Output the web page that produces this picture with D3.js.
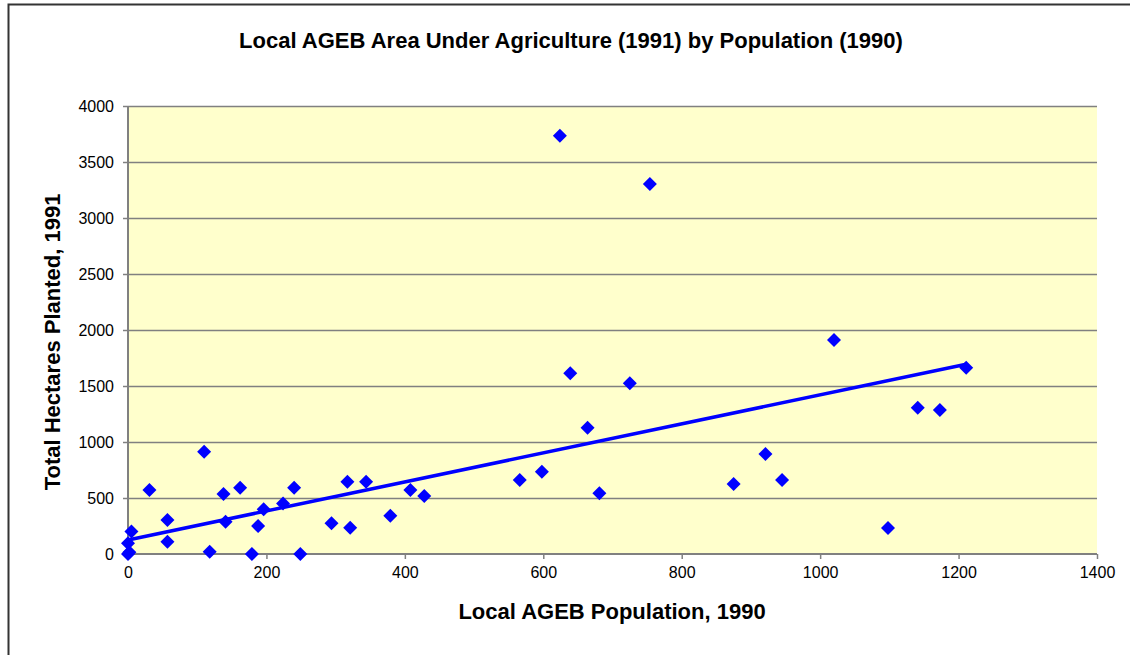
<!DOCTYPE html>
<html>
<head>
<meta charset="utf-8">
<script src="https://cdn.jsdelivr.net/npm/d3@7"></script>
<style>
  html, body { margin: 0; padding: 0; background: #fff; }
  text { font-family: "Liberation Sans", Arial, sans-serif; fill: #000; }
</style>
</head>
<body>
<div id="chart"></div>
<script>
// ── data ────────────────────────────────────────────────────────────────
const population = [0, 2, 0, 5, 31, 57, 57, 110, 118, 138, 141, 162, 179, 188, 196, 224, 240, 249,
  294, 317, 321, 344, 379, 408, 428, 566, 598, 624, 639, 664, 681, 725, 754, 875, 921, 945,
  1020, 1098, 1141, 1173, 1211];
const hectares = [0, 15, 95, 200, 571, 303, 110, 913, 21, 536, 289, 592, 0, 250, 399, 452, 592, 0,
  274, 646, 235, 646, 342, 571, 518, 661, 735, 3735, 1613, 1128, 542, 1524, 3304, 625, 893, 661,
  1911, 232, 1306, 1286, 1663];
// linear trendline as drawn in the original (intercept, slope)
const trendIntercept = 125;
const trendSlope = 1.296;
const xTicks = [0, 200, 400, 600, 800, 1000, 1200, 1400];
const yTicks = [0, 500, 1000, 1500, 2000, 2500, 3000, 3500, 4000];

const W = 1130, H = 655;
const plot = { left: 128, top: 106, right: 1097, bottom: 554 };

const svg = d3.select('#chart').append('svg')
  .attr('width', W).attr('height', H)
  .style('display', 'block');

// outer frame (only top + left visible in the original)
svg.append('path')
  .attr('d', `M8.5,${H} L8.5,4.5 L${W},4.5`)
  .attr('fill', 'none').attr('stroke', '#333').attr('stroke-width', 2);

const x = d3.scaleLinear().domain([0, 1400]).range([plot.left, plot.right]);
const y = d3.scaleLinear().domain([0, 4000]).range([plot.bottom, plot.top]);

// plot background
svg.append('rect')
  .attr('x', plot.left).attr('y', plot.top)
  .attr('width', plot.right - plot.left).attr('height', plot.bottom - plot.top)
  .attr('fill', '#FFFFCC');

// gridlines
svg.append('g')
  .selectAll('line')
  .data(yTicks.filter(d => d > 0))
  .enter().append('line')
  .attr('x1', plot.left).attr('x2', plot.right)
  .attr('y1', d => Math.round(y(d)) + 0.5).attr('y2', d => Math.round(y(d)) + 0.5)
  .attr('stroke', '#808080').attr('stroke-width', 1.5);

// axes
const xAxis = svg.append('g')
  .attr('transform', `translate(0,${plot.bottom})`)
  .call(d3.axisBottom(x).tickValues(xTicks).tickSize(5).tickPadding(8).tickFormat(d3.format('d')));
const yAxis = svg.append('g')
  .attr('transform', `translate(${plot.left},0)`)
  .call(d3.axisLeft(y).tickValues(yTicks).tickSize(5).tickPadding(9).tickFormat(d3.format('d')));

[xAxis, yAxis].forEach(a => {
  a.select('.domain').attr('stroke', '#808080').attr('stroke-width', 2);
  a.selectAll('.tick line').attr('stroke', '#808080').attr('stroke-width', 1.5);
  a.selectAll('.tick text')
    .style('font-family', '"Liberation Sans", Arial, sans-serif')
    .style('font-size', '16px').attr('fill', '#000');
});
xAxis.select('.domain').attr('d', `M${plot.left},0H${plot.right}`);
yAxis.select('.domain').attr('d', `M0,${plot.bottom}V${plot.top}`);

// ── trendline ──
const xMin = d3.min(population), xMax = d3.max(population);
svg.append('line')
  .attr('x1', x(xMin)).attr('y1', y(trendIntercept + trendSlope * xMin))
  .attr('x2', x(xMax)).attr('y2', y(trendIntercept + trendSlope * xMax))
  .attr('stroke', '#0000FF').attr('stroke-width', 3.5);

// diamonds
const R = 7;
svg.append('g')
  .selectAll('path')
  .data(population.map((p, i) => [p, hectares[i]]))
  .enter().append('path')
  .attr('transform', d => `translate(${x(d[0])},${y(d[1])})`)
  .attr('d', `M0,${-R}L${R},0L0,${R}L${-R},0Z`)
  .attr('fill', '#0000FF');

// titles
svg.append('text')
  .attr('x', 571).attr('y', 48)
  .attr('text-anchor', 'middle')
  .style('font-size', '22px').style('font-weight', 'bold')
  .text('Local AGEB Area Under Agriculture (1991) by Population (1990)');

svg.append('text')
  .attr('x', 612).attr('y', 619)
  .attr('text-anchor', 'middle')
  .style('font-size', '22px').style('font-weight', 'bold')
  .text('Local AGEB Population, 1990');

svg.append('text')
  .attr('transform', 'translate(60,342) rotate(-90)')
  .attr('text-anchor', 'middle')
  .style('font-size', '22px').style('font-weight', 'bold')
  .text('Total Hectares Planted, 1991');
</script>
</body>
</html>
